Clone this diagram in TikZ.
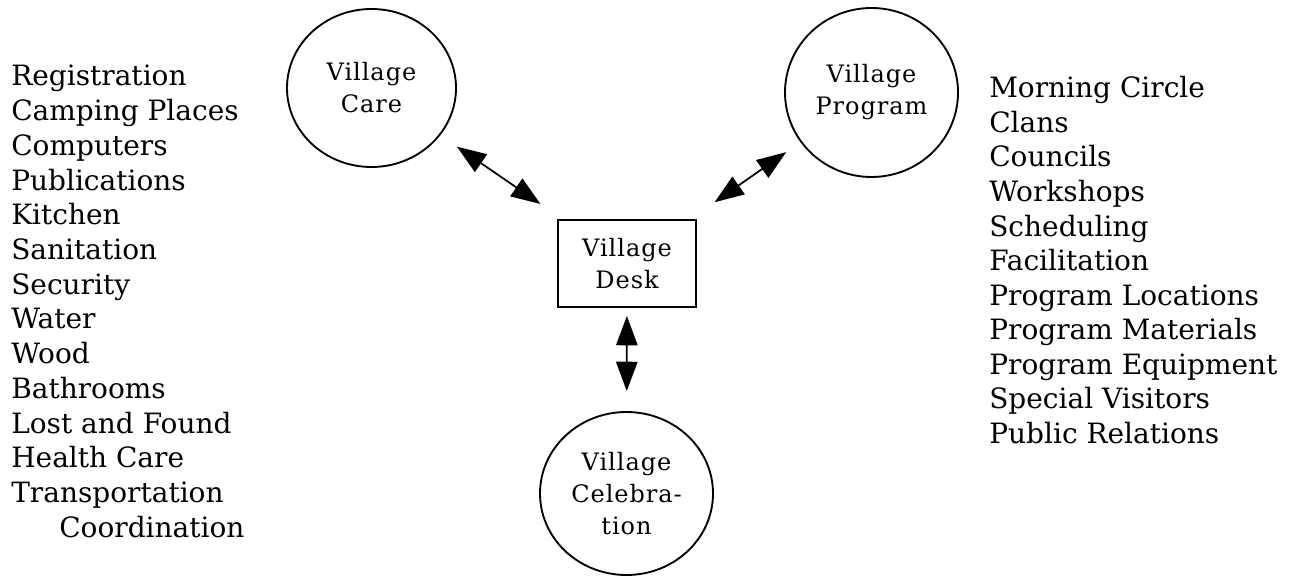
\documentclass[tikz,border=0pt]{standalone}
\usepackage{fontspec}
\setmainfont{DejaVu Serif}
\newfontfamily\unitfont[LetterSpace=4]{DejaVu Serif}
\usetikzlibrary{arrows.meta,shapes.geometric}

\tikzset{
  unit/.style={ellipse,draw,line width=1.4pt,inner sep=0pt,align=center,
               font=\unitfont\fontsize{18}{24}\selectfont},
  deskbox/.style={rectangle,draw,line width=1.4pt,inner sep=0pt,align=center,
               minimum width=103.5pt,minimum height=65.25pt,
               font=\unitfont\fontsize{18}{24}\selectfont},
  link/.style={{Triangle[length=22pt,width=16pt]}-{Triangle[length=22pt,width=16pt]},
               line width=1.3pt},
  item/.style={anchor=base west,inner sep=0pt,font=\fontsize{21}{26}\selectfont}
}

\begin{document}
\begin{tikzpicture}[x=0.75pt,y=-0.75pt]
\useasboundingbox (0,0) rectangle (1294,577);

% the four units
\node[unit,minimum width=126.75pt,minimum height=118.5pt] (care) at (371.5,88) {Village\\Care};
\node[unit,minimum width=129.75pt,minimum height=126.75pt] (program) at (871.5,92.5) {Village\\Program};
\node[unit,minimum width=129.75pt,minimum height=122.25pt] (celebration) at (626.5,493.5) {Village\\Celebra-\\tion};
\node[deskbox] (desk) at (627,263.5) {Village\\Desk};

% links to the desk
\draw[link,shorten <=15pt,shorten >=20pt] (care) -- (desk);
\draw[link,shorten <=13pt,shorten >=22pt] (program) -- (desk);
\draw[link,shorten <=6pt,shorten >=15pt] (desk) -- (celebration);

% care tasks
\foreach \lab [count=\i] in {Registration,Camping Places,Computers,Publications,
  Kitchen,Sanitation,Security,Water,Wood,Bathrooms,Lost and Found,Health Care,
  Transportation}
\node[item] (care\i) at (11,{86+34.7*(\i-1)}) {\lab};
\node[item] (care14) at (59,537) {Coordination};

% program tasks
\foreach \lab [count=\i] in {Morning Circle,Clans,Councils,Workshops,Scheduling,
  Facilitation,Program Locations,Program Materials,Program Equipment,
  Special Visitors,Public Relations}
\node[item] (program\i) at (989,{98+34.5*(\i-1)}) {\lab};
\end{tikzpicture}
\end{document}
